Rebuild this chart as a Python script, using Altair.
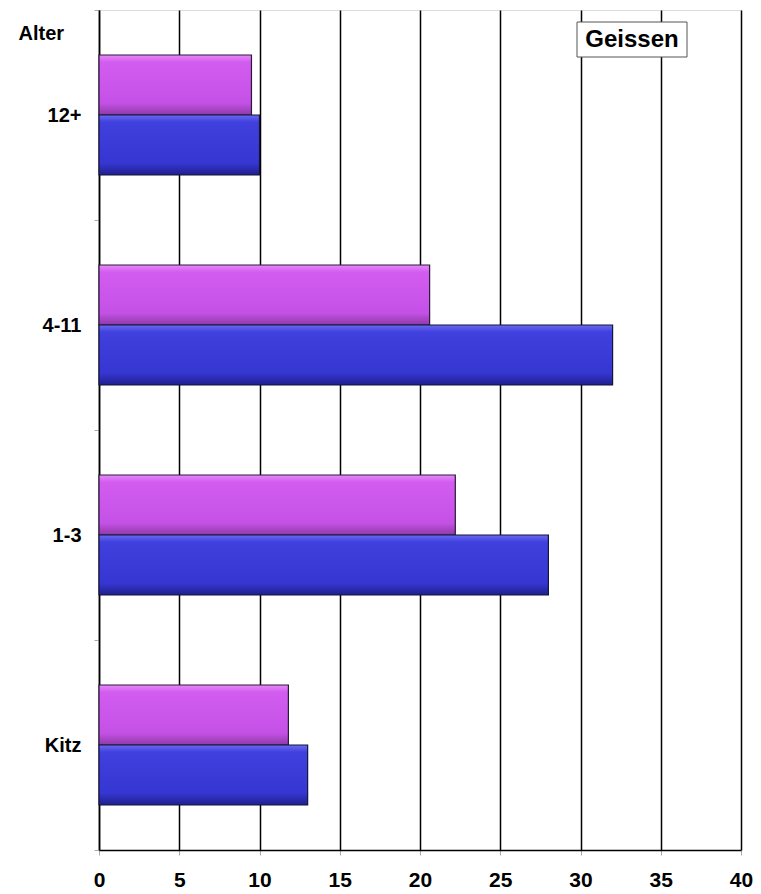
import altair as alt
import pandas as pd

categories = ["12+", "4-11", "1-3", "Kitz"]
series_names = ["A", "B"]
values_a = [9.5, 20.6, 22.2, 11.8]   # magenta (upper bar)
values_b = [10.0, 32.0, 28.0, 13.0]  # blue (lower bar)
x_ticks = [0, 5, 10, 15, 20, 25, 30, 35, 40]

rows = []
for c, a, b in zip(categories, values_a, values_b):
    rows.append({"cat": c, "series": "A", "value": a})
    rows.append({"cat": c, "series": "B", "value": b})
df = pd.DataFrame(rows)

FONT = "Liberation Sans"

grad_a = alt.Gradient(
    gradient="linear", x1=0, y1=0, x2=0, y2=1,
    stops=[
        alt.GradientStop(offset=0, color="#E68AF7"),
        alt.GradientStop(offset=0.12, color="#D35CF0"),
        alt.GradientStop(offset=0.8, color="#C451E6"),
        alt.GradientStop(offset=1, color="#8E3AA6"),
    ],
)
grad_b = alt.Gradient(
    gradient="linear", x1=0, y1=0, x2=0, y2=1,
    stops=[
        alt.GradientStop(offset=0, color="#6A6AF2"),
        alt.GradientStop(offset=0.12, color="#4040DE"),
        alt.GradientStop(offset=0.8, color="#3636D2"),
        alt.GradientStop(offset=1, color="#20208C"),
    ],
)

x_enc = alt.X(
    "value:Q",
    scale=alt.Scale(domain=[0, 40], nice=False, zero=True),
    axis=alt.Axis(
        values=x_ticks, title=None, grid=True, gridColor="#000000", gridWidth=1.5,
        gridOpacity=1, domainColor="#000000", domainWidth=1.5,
        tickColor="#aaaaaa", tickSize=5, labelFont=FONT, labelFontSize=21,
        labelFontWeight="bold", labelColor="#000000", labelPadding=14,
        labelFlush=False,
    ),
)
y_enc = alt.Y(
    "cat:N", sort=categories,
    scale=alt.Scale(paddingInner=0, paddingOuter=0),
    axis=alt.Axis(
        title="Alter", titleAngle=0, titleAlign="left", titleBaseline="middle",
        titleX=-81, titleY=23, titleFont=FONT, titleFontSize=20,
        titleFontWeight="bold", titleColor="#000000",
        labelFont=FONT, labelFontSize=20, labelFontWeight="bold",
        labelColor="#000000", labelPadding=13, tickBand="extent",
        tickColor="#aaaaaa", tickSize=5, domainColor="#000000", domainWidth=1.5,
        grid=False,
    ),
)
yoff = alt.YOffset("series:N", sort=series_names,
                   scale=alt.Scale(domain=series_names, paddingInner=0, paddingOuter=0.75))

base = alt.Chart(df).encode(x=x_enc, y=y_enc, yOffset=yoff)
bars_a = base.transform_filter(alt.datum.series == "A").mark_bar(
    fill=grad_a, stroke="#2a1a3a", strokeWidth=1.2)
bars_b = base.transform_filter(alt.datum.series == "B").mark_bar(
    fill=grad_b, stroke="#15153a", strokeWidth=1.2)

box = alt.Chart(pd.DataFrame({"t": ["Geissen"]})).mark_rect(
    fill="#ffffff", stroke="#555555", strokeWidth=1
).encode(x=alt.value(478), x2=alt.value(588), y=alt.value(12), y2=alt.value(47))
label = alt.Chart(pd.DataFrame({"t": ["Geissen"]})).mark_text(
    font=FONT, fontSize=24, fontWeight="bold", color="#000000",
    align="center", baseline="middle"
).encode(text="t:N", x=alt.value(533), y=alt.value(30))

chart = alt.layer(bars_a, bars_b, box, label).properties(
    width=642, height=840,
    autosize=alt.AutoSizeParams(type="none"),
    padding={"left": 91, "top": 2, "right": 12, "bottom": 42},
).configure_view(stroke="#000000", strokeWidth=1.5).configure(background="#ffffff")

chart.save("out.html", embed_options={"renderer": "svg", "actions": False})
